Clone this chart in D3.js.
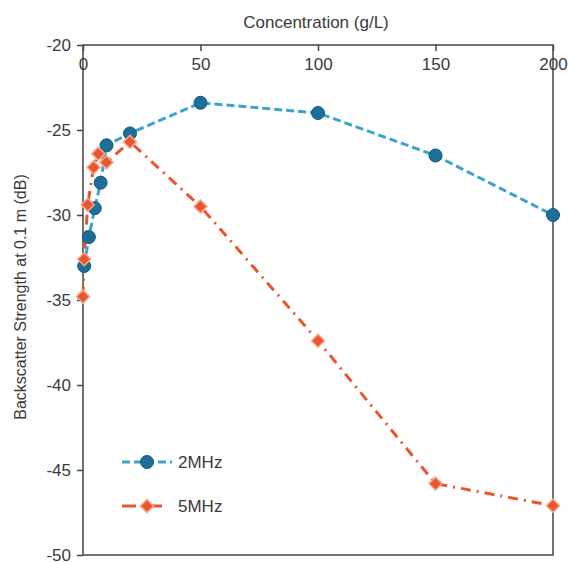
<!DOCTYPE html>
<html>
<head>
<meta charset="utf-8">
<script src="https://cdn.jsdelivr.net/npm/d3@7"></script>
<style>
  body { margin: 0; background: #fff; }
  text { font-family: "Liberation Sans", Arial, sans-serif; fill: #3a3a3a; }
</style>
</head>
<body>
<script>
// data
var conc2 = [0.5, 2.5, 5, 7.5, 10, 20, 50, 100, 150, 200];
var bs2 = [-33.0, -31.3, -29.6, -28.1, -25.9, -25.2, -23.4, -24.0, -26.5, -30.0];
var conc5 = [0, 0.5, 2, 4.5, 6.5, 10, 20, 50, 100, 150, 200];
var bs5 = [-34.8, -32.6, -29.4, -27.2, -26.4, -26.9, -25.7, -29.5, -37.4, -45.8, -47.1];
var xTicks = [0, 50, 100, 150, 200];
var yTicks = [-20, -25, -30, -35, -40, -45, -50];
var seriesNames = ['2MHz', '5MHz'];

var margin = { top: 45, right: 15, bottom: 7, left: 83 };
var width = 568, height = 562;
var w = 553 - margin.left, h = 555 - margin.top;

var svg = d3.select('body').append('svg')
    .attr('width', width)
    .attr('height', height);

var g = svg.append('g')
    .attr('transform', 'translate(' + margin.left + ',' + margin.top + ')');

var x = d3.scaleLinear().domain([0, 200]).range([0, w]);
var y = d3.scaleLinear().domain([-50, -20]).range([h, 0]);

// frame
g.append('rect')
    .attr('width', w).attr('height', h)
    .attr('fill', 'none').attr('stroke', '#444').attr('stroke-width', 1.5);

// top axis, ticks inward
var xAxis = g.append('g')
    .call(d3.axisTop(x).tickValues(xTicks).tickSize(-6).tickPadding(-25));
xAxis.select('.domain').remove();
xAxis.selectAll('.tick line').attr('stroke', '#444').attr('stroke-width', 1.5);
xAxis.selectAll('.tick text').style('font-size', '17px').attr('fill', '#3a3a3a');

// left axis, plain hyphen for minus
var yAxis = g.append('g')
    .call(d3.axisLeft(y).tickValues(yTicks).tickSize(6).tickPadding(6)
        .tickFormat(function (d) { return String(d); }));
yAxis.select('.domain').remove();
yAxis.selectAll('.tick line').attr('stroke', '#444').attr('stroke-width', 1.5);
yAxis.selectAll('.tick text').style('font-size', '17px').attr('fill', '#3a3a3a');

// titles
svg.append('text')
    .attr('x', 316).attr('y', 28)
    .attr('text-anchor', 'middle')
    .style('font-size', '17px')
    .text('Concentration (g/L)');

svg.append('text')
    .attr('transform', 'translate(26,297) rotate(-90)')
    .attr('text-anchor', 'middle')
    .style('font-size', '16px')
    .text('Backscatter Strength at 0.1 m (dB)');

var data2 = conc2.map(function (c, i) { return { c: c, v: bs2[i] }; });
var data5 = conc5.map(function (c, i) { return { c: c, v: bs5[i] }; });

var line = d3.line()
    .x(function (d) { return x(d.c); })
    .y(function (d) { return y(d.v); });

var blueLine = '#3ba3cc', blueDot = '#1b6f99', blueEdge = '#15587a';
var orange = '#e9552d', orangeEdge = '#f6a88e';

g.append('path').datum(data5)
    .attr('d', line).attr('fill', 'none')
    .attr('stroke', orange).attr('stroke-width', 3)
    .attr('stroke-dasharray', '10,6,2,6');

g.append('path').datum(data2)
    .attr('d', line).attr('fill', 'none')
    .attr('stroke', blueLine).attr('stroke-width', 3)
    .attr('stroke-dasharray', '8,4');

var diamond = d3.symbol().type(d3.symbolDiamond2).size(110);

g.selectAll('.m2').data(data2).enter().append('circle')
    .attr('cx', function (d) { return x(d.c); })
    .attr('cy', function (d) { return y(d.v); })
    .attr('r', 6.5)
    .attr('fill', blueDot).attr('stroke', blueEdge).attr('stroke-width', 1);

g.selectAll('.m5').data(data5).enter().append('path')
    .attr('d', diamond)
    .attr('transform', function (d) { return 'translate(' + x(d.c) + ',' + y(d.v) + ')'; })
    .attr('fill', orange).attr('stroke', orangeEdge).attr('stroke-width', 1.5);

// legend
var legend = [
    { name: seriesNames[0], yy: 462, color: blueLine, dash: '8,4', marker: 'circle' },
    { name: seriesNames[1], yy: 506, color: orange, dash: '14,12', marker: 'diamond' }
];
legend.forEach(function (l) {
    svg.append('line')
        .attr('x1', 122).attr('x2', 172).attr('y1', l.yy).attr('y2', l.yy)
        .attr('stroke', l.color).attr('stroke-width', 3)
        .attr('stroke-dasharray', l.dash);
    if (l.marker === 'circle') {
        svg.append('circle').attr('cx', 147).attr('cy', l.yy).attr('r', 6.5)
            .attr('fill', blueDot).attr('stroke', blueEdge);
    } else {
        svg.append('path').attr('d', diamond)
            .attr('transform', 'translate(147,' + l.yy + ')')
            .attr('fill', orange).attr('stroke', orangeEdge).attr('stroke-width', 1.5);
    }
    svg.append('text')
        .attr('x', 178).attr('y', l.yy).attr('dy', '0.35em')
        .style('font-size', '17px')
        .text(l.name);
});
</script>
</body>
</html>
